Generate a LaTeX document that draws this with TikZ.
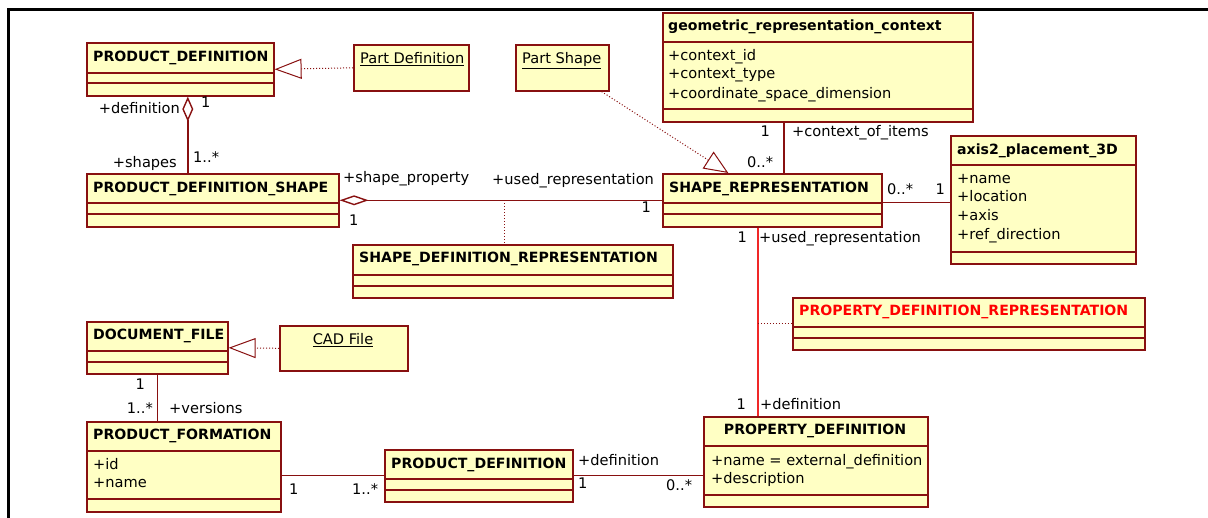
\documentclass[tikz,border=0pt]{standalone}
\usepackage{fontspec}
\setmainfont{DejaVu Sans}
\usetikzlibrary{arrows.meta,calc}
\definecolor{clsfill}{RGB}{255,255,196}
\definecolor{clsline}{RGB}{136,16,16}
\definecolor{hired}{RGB}{240,40,40}
\begin{document}
\begin{tikzpicture}[x=1pt, y=-1pt,
  cls/.style={draw=clsline, fill=clsfill, line width=1.6pt, anchor=north west, inner sep=0pt},
  lbl/.style={inner sep=0pt, text height=11pt, text depth=3pt, font=\fontsize{14.6}{17}\selectfont},
  ttl/.style={lbl, anchor=west, font=\fontsize{14.1}{17}\selectfont\bfseries},
  attr/.style={lbl, anchor=west},
  sep/.style={clsline, line width=1.2pt},
  assoc/.style={clsline, line width=1.4pt},
  dep/.style={clsline, line width=1pt, dotted},
  gen/.style={-{Triangle[open, length=27pt, width=20pt]}},
  agg/.style={{Diamond[open, length=25pt, width=11pt]}-}]
  \useasboundingbox (0,0) rectangle (1208,518);
  \draw[line width=3pt] (8.5,518) -- (8.5,9.5) -- (1208,9.5);

  % classes
  \node[cls, minimum width=187, minimum height=53] (pdtop) at (86,42) {};
  \draw[sep] (86,73) -- (273,73) (86,83) -- (273,83);
  \node[ttl] (pdtopT) at (93,58) {PRODUCT\_DEFINITION};

  \node[cls, minimum width=115, minimum height=46] (partdef) at (353,44) {};
  \node[attr] (partdefT) at (360,60) {\underline{Part Definition}};

  \node[cls, minimum width=252, minimum height=53] (pds) at (86,173) {};
  \draw[sep] (86,203) -- (338,203) (86,214) -- (338,214);
  \node[ttl] (pdsT) at (93,189) {PRODUCT\_DEFINITION\_SHAPE};

  \node[cls, minimum width=93, minimum height=46] (partshape) at (515,44) {};
  \node[attr] (partshapeT) at (522,60) {\underline{Part Shape}};

  \node[cls, minimum width=310, minimum height=109] (grc) at (662,12) {};
  \draw[sep] (662,42) -- (972,42) (662,109) -- (972,109);
  \node[ttl] (grcT) at (668,27) {geometric\_representation\_context};
  \node[attr] (grcA1) at (668,57) {+context\_id};
  \node[attr] (grcA2) at (668,75) {+context\_type};
  \node[attr] (grcA3) at (668,95) {+coordinate\_space\_dimension};

  \node[cls, minimum width=219, minimum height=53] (sr) at (662,173) {};
  \draw[sep] (662,203) -- (881,203) (662,214) -- (881,214);
  \node[ttl] (srT) at (669,189) {SHAPE\_REPRESENTATION};

  \node[cls, minimum width=185, minimum height=128] (axis) at (950,135) {};
  \draw[sep] (950,165) -- (1135,165) (950,252) -- (1135,252);
  \node[ttl] (axisT) at (957,151) {axis2\_placement\_3D};
  \node[attr] (axisA1) at (957,180) {+name};
  \node[attr] (axisA2) at (957,198) {+location};
  \node[attr] (axisA3) at (957,217) {+axis};
  \node[attr] (axisA4) at (957,236) {+ref\_direction};

  \node[cls, minimum width=320, minimum height=53] (sdr) at (352,244) {};
  \draw[sep] (352,275) -- (672,275) (352,286) -- (672,286);
  \node[ttl] (sdrT) at (359,259) {SHAPE\_DEFINITION\_REPRESENTATION};

  \node[cls, minimum width=352, minimum height=52] (pdr) at (792,297) {};
  \draw[sep] (792,327) -- (1144,327) (792,338) -- (1144,338);
  \node[ttl, text=red] (pdrT) at (799,312) {PROPERTY\_DEFINITION\_REPRESENTATION};

  \node[cls, minimum width=141, minimum height=52] (docfile) at (86,321) {};
  \draw[sep] (86,351) -- (227,351) (86,362) -- (227,362);
  \node[ttl] (docfileT) at (93,336) {DOCUMENT\_FILE};

  \node[cls, minimum width=128, minimum height=45] (cadfile) at (279,325) {};
  \node[lbl] (cadfileT) at (343,341) {\underline{CAD File}};

  \node[cls, minimum width=194, minimum height=90] (pf) at (86,421) {};
  \draw[sep] (86,451) -- (280,451) (86,499) -- (280,499);
  \node[ttl] (pfT) at (93,436) {PRODUCT\_FORMATION};
  \node[attr] (pfA1) at (93,466) {+id};
  \node[attr] (pfA2) at (93,484) {+name};

  \node[cls, minimum width=188, minimum height=52] (pdbot) at (384,449) {};
  \draw[sep] (384,479) -- (572,479) (384,490) -- (572,490);
  \node[ttl] (pdbotT) at (391,464) {PRODUCT\_DEFINITION};

  \node[cls, minimum width=224, minimum height=90] (propdef) at (703,416) {};
  \draw[sep] (703,446) -- (927,446) (703,495) -- (927,495);
  \node[ttl, anchor=center] (propdefT) at (815,431) {PROPERTY\_DEFINITION};
  \node[attr] (propdefA1) at (711,461) {+name = external\_definition};
  \node[attr] (propdefA2) at (711,479) {+description};

  % relations
  \draw[dep, gen] (partdef.west) -- (pdtop.east);
  \draw[assoc, agg] ([xshift=7.5]pdtop.south) -- ([xshift=-25]pds.north);
  \draw[assoc, {Diamond[open, length=29pt, width=10pt]}-] (pds.east) -- (sr.west)
    coordinate[pos=0.51] (sdrlink);
  \draw[dep] (sdrlink) -- (sdrlink |- sdr.north);
  \draw[dep, -{Triangle[open, length=24pt, width=20pt]}] ([xshift=-8]partshape.south east) -- ([xshift=-44]sr.north);
  \draw[assoc] ([xshift=11.5]sr.north) -- ([xshift=11.5]sr.north |- grc.south);
  \draw[assoc] ([yshift=-2.5]sr.east) -- ([yshift=-2.5]sr.east -| axis.west);
  \coordinate (redlink) at ([xshift=-14.5]sr.south);
  \draw[hired, line width=1.4pt] (redlink) -- (redlink |- propdef.north);
  \draw[dep] (redlink |- pdr.west) -- (pdr.west);
  \draw[dep, gen] (cadfile.west) -- (docfile.east);
  \draw[assoc] (docfile.south) -- (docfile.south |- pf.north);
  \draw[assoc] (pdbot.west -| pf.east) -- (pdbot.west);
  \draw[assoc] (pdbot.east) -- (pdbot.east -| propdef.west);

  % roles and multiplicities
  \node[lbl, anchor=east] (r1) at (180,110) {+definition};
  \node[lbl, anchor=west] (m1) at (201,104) {1};
  \node[lbl, anchor=east] (r2) at (177,164) {+shapes};
  \node[lbl, anchor=west] (m2) at (193,159) {1..*};
  \node[lbl, anchor=west] (r3) at (343,179) {+shape\_property};
  \node[lbl, anchor=west] (m3) at (349,222) {1};
  \node[lbl, anchor=west] (r4) at (492,181) {+used\_representation};
  \node[lbl, anchor=east] (m4) at (651,209) {1};
  \node[lbl, anchor=east] (m5) at (770,133) {1};
  \node[lbl, anchor=west] (r5) at (792,133) {+context\_of\_items};
  \node[lbl, anchor=west] (m6) at (747,164) {0..*};
  \node[lbl, anchor=west] (m7) at (887,191) {0..*};
  \node[lbl, anchor=east] (m8) at (945,191) {1};
  \node[lbl, anchor=east] (m9) at (747,239) {1};
  \node[lbl, anchor=west] (r6) at (759,239) {+used\_representation};
  \node[lbl, anchor=east] (m10) at (746,406) {1};
  \node[lbl, anchor=west] (r7) at (760,406) {+definition};
  \node[lbl, anchor=east] (m11) at (145,386) {1};
  \node[lbl, anchor=east] (m12) at (153,410) {1..*};
  \node[lbl, anchor=west] (r8) at (169,410) {+versions};
  \node[lbl, anchor=west] (m13) at (289,490) {1};
  \node[lbl, anchor=west] (m14) at (352,490) {1..*};
  \node[lbl, anchor=west] (r9) at (578,462) {+definition};
  \node[lbl, anchor=west] (m15) at (578,485) {1};
  \node[lbl, anchor=west] (m16) at (666,486) {0..*};
\end{tikzpicture}
\end{document}
